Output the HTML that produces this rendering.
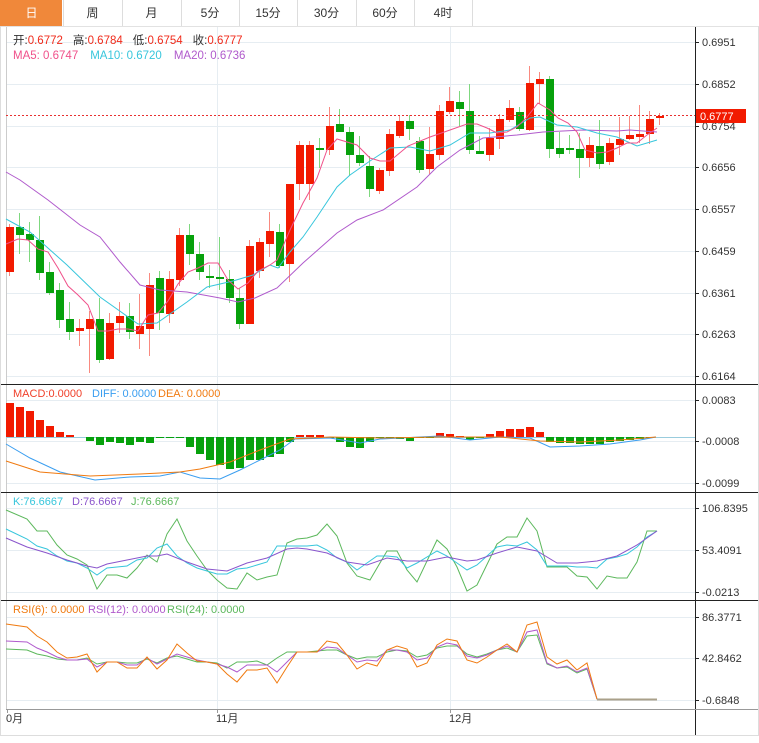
<!DOCTYPE html>
<html><head><meta charset="utf-8">
<style>
body{margin:0;background:#fff;width:759px;height:743px;overflow:hidden;font-family:"Liberation Sans","Noto Sans CJK SC",sans-serif;}
svg{position:absolute;left:0;top:0}
</style></head><body>
<svg id="s" width="759" height="743" xmlns="http://www.w3.org/2000/svg" font-family="Liberation Sans, Noto Sans CJK SC, sans-serif"></svg>
<script>
var s=document.getElementById('s'),h='';
function L(x1,y1,x2,y2,c,w,d){h+='<line x1="'+x1+'" y1="'+y1+'" x2="'+x2+'" y2="'+y2+'" stroke="'+c+'" stroke-width="'+(w||1)+'"'+(d?' stroke-dasharray="'+d+'"':'')+'/>';}
function R(x,y,w,hh,c){h+='<rect x="'+x+'" y="'+y+'" width="'+w+'" height="'+hh+'" fill="'+c+'"/>';}
function T(x,y,t,c,sz,a){h+='<text x="'+x+'" y="'+y+'" fill="'+c+'" font-size="'+(sz||11)+'"'+(a?' text-anchor="'+a+'"':'')+'>'+t+'</text>';}
function P(pts,c){h+='<polyline fill="none" stroke="'+c+'" stroke-width="1" points="'+pts.map(function(p){return p[0]+','+p[1]}).join(' ')+'"/>';}
var tabs=['日','周','月','5分','15分','30分','60分','4时'],tx=[0,63,122,181,239,297,356,414,472];
R(0,0,759,26,'#fff');
for(var i=0;i<8;i++){if(i==0)R(0,0,62,26,'#f0883a');else L(tx[i]+0.5,0,tx[i]+0.5,26,'#ddd');
T((tx[i]+tx[i+1])/2,17,tabs[i],i==0?'#fff':'#333',12,'middle');}
L(472.5,0,472.5,26,'#ddd');L(0,26.5,759,26.5,'#e2e2e2');
var G='#e6edf2';
[42,84,126,167,209,251,293,334,376, 400,441,483, 508,550,592, 617,658,700].forEach(function(y){L(6,y+.5,695,y+.5,G);});
[217,450].forEach(function(x){L(x+.5,27,x+.5,709,G);});
L(6.5,27,6.5,709,'#ccc');L(695.5,27,695.5,735,'#222');
L(0,384.5,759,384.5,'#222');L(0,492.5,759,492.5,'#222');L(0,600.5,759,600.5,'#222');
L(6,709.5,759,709.5,'#999');L(0,735.5,759,735.5,'#ddd');L(0.5,26,0.5,736,'#ddd');L(758.5,26,758.5,736,'#ddd');
var ra=[[42,'0.6951'],[84,'0.6852'],[126,'0.6754'],[167,'0.6656'],[209,'0.6557'],[251,'0.6459'],[293,'0.6361'],[334,'0.6263'],[376,'0.6164'],[400,'0.0083'],[441,'-0.0008'],[483,'-0.0099'],[508,'106.8395'],[550,'53.4091'],[592,'-0.0213'],[617,'86.3771'],[658,'42.8462'],[700,'-0.6848']];
ra.forEach(function(a){L(695,a[0]+.5,699,a[0]+.5,'#222');T(702,a[0]+4,a[1],'#333',11);});
var C=[['r',227,272,224,276],['g',227,235,213,254],['g',234,240,222,262],['g',240,273,216,280],['g',272,293,262,295],['g',290,320,283,328],['g',319,332,302,340],['r',328,331,319,346],['r',319,329,311,373],['g',319,360,298,363],['r',323,359,313,360],['r',316,323,302,333],['g',316,332,303,339],['r',326,334,294,349],['r',285,329,273,356],['g',278,313,271,330],['r',279,314,271,323],['r',235,280,228,286],['g',235,254,224,265],['g',254,272,242,280],['g',276,277,265,288],['g',277,279,237,290],['g',279,298,270,303],['g',298,324,288,329],['r',246,324,240,324],['r',242,271,238,278],['r',231,244,212,257],['g',232,266,224,268],['r',184,264,184,282],['r',145,184,141,200],['r',145,184,141,200],['g',148,150,138,168],['r',126,150,107,155],['g',124,132,109,132],['g',132,155,127,176],['g',155,163,136,166],['g',166,189,156,197],['r',170,191,168,194],['r',134,171,129,176],['r',121,136,115,138],['g',121,129,115,140],['g',141,170,137,173],['r',154,169,127,174],['r',111,155,105,160],['r',101,112,87,114],['g',102,109,91,126],['g',111,150,84,154],['g',151,154,136,154],['r',138,155,128,161],['r',119,139,114,149],['r',108,120,100,122],['g',112,129,107,131],['r',83,130,66,131],['r',79,84,72,104],['g',79,149,76,158],['g',148,154,132,158],['g',148,150,135,154],['g',149,158,133,178],['r',145,158,137,167],['g',146,164,120,169],['r',143,162,138,165],['r',139,145,117,155],['r',135,139,116,140],['r',134,137,105,143],['r',119,134,111,144],['r',116,118,113,125]];
var RED='#f21a00',GRN='#07a10c';
C.forEach(function(c,i){var x=9+10*i;L(x+.5,c[3],x+.5,c[4],c[0]=='r'?'#f98a80':'#7fd87f');R(x-3,c[1],8,Math.max(2,c[2]-c[1]),c[0]=='r'?RED:GRN);});
P([[6,172],[20,180],[48,200],[80,225],[100,237],[120,262],[140,285],[160,290],[187,292],[220,298],[238,302],[255,298],[277,288],[303,263],[337,233],[357,220],[383,210],[417,187],[437,167],[460,150],[483,138],[517,135],[543,132],[583,130],[617,131],[630,130],[657,132]],'#b05acc');
P([[6,219],[30,232],[67,265],[100,297],[138,324],[157,323],[187,302],[207,287],[233,281],[253,275],[270,265],[278,268],[290,252],[303,237],[317,217],[337,187],[350,175],[370,161],[390,148],[410,147],[430,151],[450,145],[470,133],[490,133],[510,130],[530,118],[540,117],[557,125],[577,127],[597,133],[617,137],[637,146],[647,143],[657,140]],'#37c6dc');
P([[6,244],[18,239],[28,240],[38,249],[48,252],[58,268],[68,286],[78,295],[88,305],[98,331],[108,331],[118,329],[128,329],[138,331],[148,315],[158,313],[168,301],[178,284],[188,272],[198,268],[208,263],[218,263],[228,280],[238,289],[248,283],[258,271],[270,265],[277,260],[290,230],[303,203],[317,178],[327,150],[337,139],[357,145],[370,158],[380,161],[390,161],[408,146],[430,137],[450,130],[467,124],[477,124],[487,128],[497,133],[507,132],[517,127],[527,117],[538,103],[550,110],[558,118],[568,123],[577,132],[585,150],[597,153],[607,152],[617,148],[627,143],[637,143],[647,135],[657,128]],'#f0508a');
L(6,115.5,695,115.5,'#e83030',1,'2,2');R(696,109,50,14,RED);T(700,120,'0.6777','#fff',11);
h+='<text x="13" y="44" font-size="11.5"><tspan fill="#333">开:</tspan><tspan fill="#f02a1a">0.6772</tspan><tspan fill="#333" dx="10">高:</tspan><tspan fill="#f02a1a">0.6784</tspan><tspan fill="#333" dx="10">低:</tspan><tspan fill="#f02a1a">0.6754</tspan><tspan fill="#333" dx="10">收:</tspan><tspan fill="#f02a1a">0.6777</tspan></text>';
h+='<text x="13" y="59" font-size="11.5"><tspan fill="#f0508a">MA5:  0.6747</tspan><tspan fill="#37c6dc" dx="12">MA10:  0.6720</tspan><tspan fill="#b05acc" dx="12">MA20:  0.6736</tspan></text>';
var M=[34,30,26,17,11,5,2,0,-4,-8,-5,-6,-8,-5,-6,-1,-1,-1,-10,-17,-23,-28,-32,-31,-23,-23,-20,-17,-5,2,2,2,-1,-5,-10,-11,-5,-1,-1,-2,-4,-1,-1,4,3,1,-3,-1,3,6,8,8,10,5,-5,-6,-6,-7,-7,-7,-5,-4,-3,-2,-1,0];
L(6,437.5,695,437.5,'#9cd','2,2');
M.forEach(function(v,i){var x=9+10*i;if(v>0)R(x-3,437-v,8,v,RED);else if(v<0)R(x-3,437,8,-v,GRN);});
P([[6,444],[30,458],[60,472],[95,480],[130,477],[160,476],[180,472],[200,478],[220,479],[240,470],[260,460],[280,450],[295,439],[330,438],[360,443],[380,439],[420,437],[440,436],[470,440],[500,437],[530,438],[550,447],[580,446],[610,444],[640,440],[656,437]],'#3a9ef0');
P([[6,461],[40,472],[90,476],[140,474],[180,472],[200,469],[230,462],[260,450],[290,439],[330,437],[380,438],[440,437],[500,437],[540,441],[580,442],[620,440],[656,437]],'#f07a10');
T(13,397,'MACD:0.0000','#f0402a');T(92,397,'DIFF: 0.0000','#3a9ef0');T(158,397,'DEA: 0.0000','#f07a10');
P([[6,510],[27,519],[37,531],[47,531],[57,545],[67,555],[77,559],[87,565],[97,589],[107,575],[117,575],[127,578],[137,568],[147,555],[157,562],[167,534],[177,519],[187,541],[197,556],[207,570],[217,580],[227,588],[237,589],[247,573],[257,580],[267,577],[277,575],[287,543],[297,539],[307,538],[317,535],[327,524],[337,536],[347,563],[357,576],[370,580],[387,551],[397,551],[407,570],[417,582],[437,540],[447,549],[457,567],[467,591],[477,585],[497,544],[507,537],[517,537],[527,518],[537,531],[547,567],[557,567],[567,567],[577,576],[587,577],[597,589],[607,576],[617,578],[627,578],[637,562],[647,531],[657,531]],'#5cb85c');
P([[6,529],[27,539],[37,546],[47,549],[57,556],[67,561],[77,563],[87,568],[97,575],[107,568],[117,567],[127,566],[137,560],[147,558],[157,548],[167,544],[177,556],[187,563],[197,568],[207,571],[217,574],[227,574],[237,569],[247,568],[257,565],[267,562],[277,546],[287,546],[297,546],[307,546],[317,545],[327,550],[337,558],[347,562],[357,570],[367,563],[377,556],[387,556],[397,557],[407,568],[417,563],[437,551],[447,556],[457,563],[467,570],[477,565],[497,547],[507,545],[517,546],[527,542],[537,550],[547,566],[557,566],[567,566],[577,567],[587,567],[597,568],[607,559],[617,557],[627,554],[637,547],[647,537],[657,531]],'#37c6dc');
P([[6,538],[27,547],[47,553],[67,560],[87,566],[97,568],[107,564],[127,560],[147,556],[157,556],[167,554],[187,562],[207,569],[227,571],[247,563],[267,558],[287,549],[297,548],[307,549],[327,553],[347,562],[367,565],[387,558],[407,561],[427,561],[447,557],[467,561],[477,560],[497,553],[517,547],[537,551],[557,563],[577,563],[597,561],[617,556],[637,545],[657,531]],'#8a55cc');
T(13,505,'K:76.6667','#37c6dc');T(72,505,'D:76.6667','#8a55cc');T(131,505,'J:76.6667','#5cb85c');
P([[6,649],[27,650],[37,654],[47,656],[57,659],[67,660],[77,660],[87,658],[97,664],[107,662],[117,662],[127,663],[137,663],[147,659],[157,663],[167,658],[177,656],[187,659],[197,662],[207,662],[217,663],[227,668],[237,662],[247,662],[257,661],[267,665],[277,658],[287,652],[297,652],[307,652],[327,650],[337,650],[347,655],[357,659],[367,657],[377,657],[387,652],[397,650],[407,651],[417,657],[427,655],[437,648],[447,646],[457,646],[467,654],[477,657],[487,654],[497,650],[507,648],[517,652],[527,636],[537,635],[547,664],[557,668],[567,667],[577,673],[587,669],[597,699],[657,699]],'#5cb85c');
P([[6,641],[27,642],[37,648],[47,652],[57,657],[67,660],[77,660],[87,659],[97,667],[107,662],[117,662],[127,665],[137,665],[147,658],[157,664],[167,659],[177,654],[187,657],[197,660],[207,662],[217,664],[227,667],[237,672],[247,665],[257,665],[267,665],[277,672],[287,662],[297,652],[307,652],[317,652],[327,647],[337,648],[347,655],[357,662],[367,660],[377,661],[387,650],[397,650],[407,652],[417,660],[427,658],[437,647],[447,643],[457,645],[467,656],[477,658],[487,655],[497,650],[507,646],[517,652],[527,632],[537,630],[547,663],[557,668],[567,666],[577,672],[587,668],[597,699],[657,699]],'#b05acc');
P([[6,624],[27,627],[37,636],[47,642],[57,652],[67,658],[77,657],[87,654],[97,672],[107,662],[117,662],[127,668],[137,668],[147,657],[157,669],[167,660],[177,644],[187,653],[197,661],[207,662],[217,664],[227,674],[237,682],[247,670],[257,670],[267,668],[277,683],[287,667],[297,652],[307,652],[317,652],[327,641],[337,643],[347,655],[357,669],[367,663],[377,666],[387,650],[397,646],[407,649],[417,667],[427,663],[437,645],[447,639],[457,641],[467,660],[477,663],[487,657],[497,650],[507,644],[517,652],[527,625],[537,622],[547,657],[557,664],[567,660],[577,670],[587,663],[597,699],[657,699]],'#f07a10');
L(597,699.5,657,699.5,'#aaa08a',2);
T(13,613,'RSI(6): 0.0000','#f07a10');T(88,613,'RSI(12): 0.0000','#b05acc');T(167,613,'RSI(24): 0.0000','#5cb85c');
[[7,'0月'],[217,'11月'],[450,'12月']].forEach(function(a){L(a[0]+.5,709,a[0]+.5,713,'#999');T(a[0]-1,722,a[1],'#333',11);});
s.innerHTML=h;
</script>
</body></html>
